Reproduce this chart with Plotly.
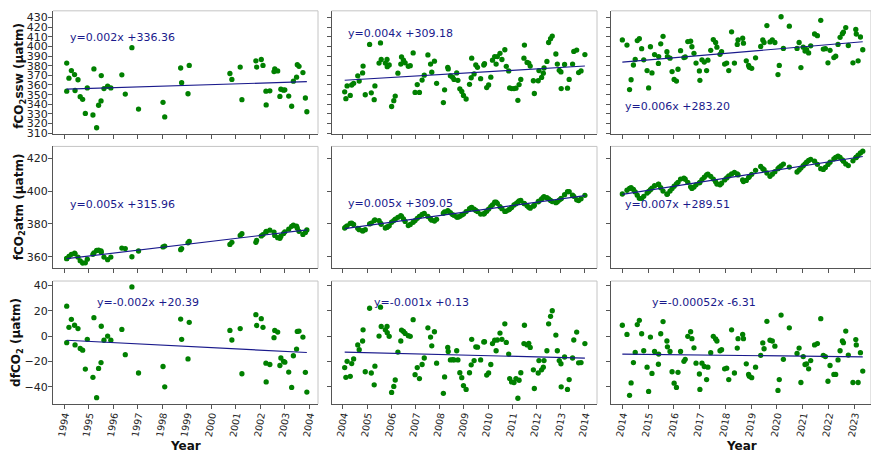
import numpy as np
import plotly.graph_objects as go

# ---------------- data ----------------
yr1 = [1994.10, 1994.10, 1994.19, 1994.29, 1994.42, 1994.44, 1994.56, 1994.65, 1994.75, 1994.86,
       1994.94, 1995.17, 1995.21, 1995.32, 1995.40, 1995.50, 1995.51, 1995.62, 1995.77, 1995.90,
       1996.35, 1996.49, 1996.76, 1997.03, 1998.03, 1998.10, 1998.75, 1998.79, 1999.05, 1999.10,
       2000.76, 2000.84, 2001.18, 2001.25, 2001.82, 2001.85, 2002.04, 2002.11, 2002.23, 2002.24,
       2002.39, 2002.56, 2002.59, 2002.71, 2002.80, 2002.84, 2002.95, 2003.00, 2003.16, 2003.28,
       2003.35, 2003.48, 2003.51, 2003.58, 2003.74, 2003.84, 2003.90]
sw1 = [382.7, 353.6, 367.1, 374.9, 370.8, 354.3, 365.4, 347.9, 345.2, 330.5,
       357.0, 328.9, 376.6, 315.7, 339.0, 343.5, 369.8, 356.3, 358.7, 357.0,
       370.5, 350.6, 398.6, 335.0, 342.0, 326.9, 377.6, 362.4, 350.9, 380.3,
       371.9, 365.8, 378.6, 344.8, 385.0, 378.6, 386.4, 380.3, 353.6, 339.4,
       354.0, 373.9, 376.6, 374.6, 348.2, 355.6, 354.6, 355.0, 348.5, 338.0,
       364.0, 368.1, 381.0, 379.3, 372.9, 346.5, 332.3]
atm1 = [359.0, 358.8, 360.2, 361.5, 362.2, 361.8, 359.8, 357.5, 356.2, 356.3,
        358.5, 361.5, 362.3, 363.8, 364.0, 363.5, 362.8, 359.8, 358.2, 359.8,
        365.3, 365.0, 360.0, 363.5, 366.0, 366.5, 364.3, 365.0, 368.5, 369.3,
        367.5, 368.8, 373.0, 374.0, 368.8, 370.0, 372.7, 373.5, 375.0, 375.4,
        376.2, 375.0, 373.0, 371.6, 371.2, 372.5, 374.2, 375.2, 376.8, 378.5,
        379.2, 378.6, 377.4, 375.5, 373.6, 374.8, 376.3]
df1 = [23.5, -5.2, 6.9, 13.2, 8.5, -7.0, 5.9, -9.8, -11.1, -26.0,
       -2.6, -32.5, 14.5, -48.5, -25.5, -20.9, 7.7, -3.3, 0.0, -3.3,
       5.2, -14.7, 38.7, -29.1, -24.0, -40.0, 13.4, -2.6, -18.0, 10.8,
       4.4, -3.1, 5.9, -29.7, 16.8, 8.3, 13.7, 6.9, -21.4, -36.1,
       -22.4, -1.3, 4.4, 3.1, -23.2, -17.3, -19.9, -20.6, -28.4, -40.5,
       -15.5, -10.3, 3.6, 3.9, -0.8, -28.6, -44.1]

yr2 = [2004.07, 2004.12, 2004.17, 2004.30, 2004.36, 2004.44, 2004.61, 2004.67, 2004.81, 2004.83,
       2004.92, 2005.10, 2005.17, 2005.29, 2005.32, 2005.49, 2005.55, 2005.58, 2005.75, 2005.82,
       2005.83, 2005.91, 2006.01, 2006.10, 2006.16, 2006.27, 2006.39, 2006.42, 2006.50, 2006.57,
       2006.70, 2006.78, 2006.90, 2006.98, 2007.07, 2007.16, 2007.27, 2007.36, 2007.51, 2007.62,
       2007.67, 2007.78, 2007.87, 2008.15, 2008.20, 2008.33, 2008.35, 2008.44, 2008.53, 2008.59,
       2008.70, 2008.75, 2008.83, 2008.91, 2008.98, 2009.09, 2009.23, 2009.30, 2009.32, 2009.42,
       2009.49, 2009.56, 2009.69, 2009.82, 2009.85, 2009.94, 2010.02, 2010.11, 2010.18, 2010.27,
       2010.33, 2010.38, 2010.49, 2010.57, 2010.69, 2010.75, 2010.85, 2010.89, 2010.97, 2011.07,
       2011.15, 2011.23, 2011.28, 2011.35, 2011.48, 2011.50, 2011.61, 2011.68, 2011.74, 2011.87,
       2011.91, 2012.07, 2012.10, 2012.21, 2012.28, 2012.31, 2012.43, 2012.50, 2012.58, 2012.65,
       2012.80, 2012.86, 2012.94, 2013.01, 2013.02, 2013.16, 2013.28, 2013.35, 2013.49, 2013.54,
       2013.66, 2013.74, 2013.84, 2014.00]
sw2 = [352.9, 345.8, 359.0, 349.2, 360.0, 361.7, 369.5, 364.1, 372.5, 379.6,
       349.9, 402.0, 351.9, 344.8, 359.0, 382.7, 403.6, 386.4, 382.7, 386.4,
       379.0, 380.7, 337.7, 343.8, 348.5, 372.2, 381.7, 389.1, 385.7, 383.0,
       379.3, 380.0, 393.2, 352.3, 360.4, 352.3, 365.1, 370.2, 391.1, 381.7,
       373.2, 384.7, 361.7, 341.8, 355.0, 378.3, 376.6, 369.5, 368.1, 365.8,
       372.5, 364.8, 356.0, 353.3, 349.2, 345.5, 360.7, 367.5, 387.8, 371.5,
       380.7, 378.3, 366.5, 380.7, 382.0, 357.3, 360.0, 368.1, 385.7, 389.4,
       381.7, 389.4, 392.8, 386.4, 396.5, 379.3, 374.6, 357.0, 356.3, 356.3,
       356.7, 344.1, 360.4, 365.8, 387.8, 401.3, 383.4, 382.7, 379.6, 364.4,
       351.2, 364.4, 374.9, 367.8, 372.2, 377.6, 384.4, 404.0, 408.0, 410.7,
       392.1, 381.7, 375.2, 373.5, 356.3, 381.3, 356.7, 365.8, 381.7, 394.8,
       396.2, 372.9, 374.6, 391.5]
atm2 = [377.5, 378.2, 378.8, 380.3, 380.5, 379.7, 377.3, 376.5, 375.7, 375.9,
        376.5, 380.0, 380.5, 382.0, 382.5, 382.0, 380.5, 379.8, 377.5, 378.0,
        378.1, 378.8, 381.0, 382.0, 382.9, 384.0, 385.0, 384.6, 383.0, 381.5,
        379.0, 379.7, 381.0, 382.0, 383.4, 384.5, 385.8, 386.4, 384.5, 383.0,
        382.3, 381.7, 382.8, 386.5, 387.3, 388.0, 387.8, 386.8, 385.7, 385.2,
        384.2, 384.1, 384.6, 385.4, 386.0, 387.5, 389.3, 389.9, 390.0, 389.0,
        388.2, 387.5, 386.0, 386.0, 386.5, 387.7, 389.0, 390.5, 391.6, 393.2,
        393.3, 392.5, 390.5, 389.3, 387.6, 387.8, 388.6, 389.0, 390.0, 391.5,
        392.3, 393.3, 394.0, 394.3, 392.5, 392.3, 391.0, 390.2, 389.6, 390.8,
        391.4, 393.5, 393.9, 395.2, 396.2, 396.6, 396.0, 395.3, 394.3, 393.6,
        392.9, 393.5, 394.5, 395.3, 395.5, 397.8, 399.6, 399.6, 397.5, 396.8,
        394.7, 394.2, 395.3, 397.4]
df2 = [-24.8, -32.5, -19.9, -31.7, -21.7, -18.0, -7.0, -10.8, -3.9, 4.9,
       -28.1, 21.9, -29.1, -38.4, -23.7, 0.0, 22.7, 7.5, 4.9, 7.5,
       2.6, -0.2, -44.4, -39.7, -34.6, -12.6, -3.9, 4.7, 3.6, 2.1,
       0.3, -0.2, 12.9, -30.4, -24.8, -33.5, -22.4, -17.3, 6.5, -0.8,
       -7.7, 3.4, -21.4, -45.1, -32.2, -9.0, -12.1, -18.8, -18.6, -18.8,
       -11.6, -18.8, -28.9, -32.8, -39.0, -42.0, -28.9, -22.7, -2.6, -19.3,
       -8.5, -8.8, -18.8, -4.6, -4.5, -30.7, -29.1, -22.4, -5.9, -3.3,
       -11.6, -3.1, 2.3, -2.6, 9.6, -5.0, -14.2, -33.5, -36.1, -36.6,
       -33.5, -49.0, -34.8, -28.9, -5.9, 8.5, -7.0, -5.7, -9.0, -26.6,
       -41.3, -29.1, -19.3, -26.6, -24.5, -19.3, -11.6, 9.6, 15.5, 19.9,
       0.8, -11.6, -19.3, -21.8, -40.0, -16.5, -42.0, -34.3, -17.3, -3.1,
       3.1, -21.1, -20.9, -5.9]

yr3 = [2014.00, 2014.18, 2014.28, 2014.34, 2014.43, 2014.50, 2014.58, 2014.66, 2014.75, 2014.83,
       2014.96, 2015.02, 2015.09, 2015.15, 2015.25, 2015.40, 2015.41, 2015.49, 2015.58, 2015.73,
       2015.75, 2015.85, 2015.93, 2016.01, 2016.10, 2016.16, 2016.26, 2016.39, 2016.44, 2016.54,
       2016.65, 2016.70, 2016.78, 2016.86, 2016.99, 2017.01, 2017.09, 2017.18, 2017.27, 2017.32,
       2017.43, 2017.53, 2017.62, 2017.67, 2017.79, 2017.85, 2017.97, 2018.05, 2018.13, 2018.24,
       2018.35, 2018.46, 2018.49, 2018.67, 2018.70, 2018.81, 2018.90, 2018.93, 2019.02, 2019.17,
       2019.37, 2019.45, 2019.50, 2019.61, 2019.73, 2019.82, 2019.92, 2020.04, 2020.09, 2020.16,
       2020.25, 2020.48, 2020.78, 2020.86, 2020.93, 2021.02, 2021.09, 2021.15, 2021.23, 2021.31,
       2021.46, 2021.57, 2021.70, 2021.80, 2021.88, 2021.98, 2022.06, 2022.21, 2022.28, 2022.37,
       2022.45, 2022.54, 2022.58, 2022.67, 2022.77, 2022.95, 2023.06, 2023.08, 2023.15, 2023.24,
       2023.33]
sw3 = [406.7, 401.3, 355.3, 365.4, 380.7, 386.4, 406.0, 408.0, 397.6, 386.1,
       374.9, 357.0, 399.6, 372.5, 391.5, 382.3, 389.4, 402.6, 410.4, 394.5,
       389.4, 387.8, 373.9, 365.8, 364.1, 376.3, 395.5, 388.4, 389.1, 405.0,
       405.3, 399.6, 392.8, 382.7, 374.6, 364.8, 386.1, 383.7, 374.9, 385.7,
       395.9, 407.0, 404.0, 399.2, 391.8, 394.5, 381.7, 382.7, 374.9, 415.1,
       382.7, 402.0, 406.7, 408.4, 403.3, 385.0, 380.3, 378.3, 377.3, 388.1,
       399.9, 406.7, 404.0, 421.5, 404.6, 406.7, 404.0, 370.8, 380.3, 430.7,
       397.9, 420.9, 397.9, 404.0, 378.0, 399.2, 395.2, 396.5, 393.2, 400.6,
       412.8, 411.1, 427.0, 397.2, 397.6, 383.0, 395.9, 388.4, 389.8, 402.0,
       409.4, 413.1, 414.8, 419.5, 400.9, 383.0, 417.5, 412.8, 385.0, 409.7,
       396.5]
atm3 = [398.2, 400.5, 401.6, 402.0, 401.0, 399.5, 397.5, 395.6, 395.5, 396.8,
        398.8, 399.8, 400.8, 401.8, 403.3, 404.2, 404.0, 402.0, 400.0, 398.0,
        398.2, 400.0, 401.5, 403.0, 404.4, 405.3, 407.3, 407.8, 407.2, 405.3,
        402.6, 401.6, 402.4, 403.8, 405.0, 405.3, 407.0, 408.4, 409.8, 410.3,
        409.0, 407.3, 405.6, 404.3, 403.8, 404.8, 406.8, 408.0, 409.2, 410.4,
        411.4, 410.5, 409.8, 406.8, 405.8, 406.5, 408.2, 408.8, 410.2, 412.6,
        415.0, 413.6, 413.0, 411.0, 409.0, 410.3, 411.8, 413.6, 414.4, 415.3,
        416.4, 414.6, 411.6, 412.8, 414.0, 415.4, 416.6, 417.6, 418.6, 419.3,
        418.2, 416.3, 413.6, 413.2, 414.4, 416.2, 417.6, 419.6, 420.5, 421.3,
        420.5, 419.0, 418.2, 416.5, 415.5, 418.4, 420.3, 420.6, 421.8, 423.2,
        424.3]
df3 = [8.5, 1.3, -46.7, -36.9, -20.9, -12.9, 9.0, 12.4, 1.8, -11.6,
       -24.5, -43.6, -0.8, -29.4, -12.1, -22.2, -14.2, 1.8, 11.4, -3.9,
       -8.5, -12.1, -28.1, -37.1, -40.5, -28.6, -12.1, -19.9, -18.3, -0.2,
       3.4, -2.1, -9.3, -21.4, -29.9, -42.0, -21.4, -24.0, -34.3, -24.5,
       -13.1, -0.2, -2.3, -3.9, -11.6, -10.8, -25.8, -25.3, -34.3, 4.9,
       -29.1, -9.5, -2.1, 1.3, -2.1, -21.9, -30.2, -31.7, -32.8, -24.5,
       -15.2, -5.4, -10.0, 11.6, -3.3, -3.9, -8.0, -42.8, -34.3, 16.5,
       -18.3, 6.5, -13.7, -9.5, -36.6, -16.2, -22.4, -21.9, -25.8, -19.3,
       -7.0, -5.9, 13.7, -15.2, -16.2, -35.6, -23.2, -30.2, -30.2, -18.8,
       -11.6, -3.9, -5.2, 3.9, -15.0, -36.6, -2.8, -7.0, -36.6, -13.1,
       -27.6]

eq_labels = ["y=0.002x +336.36", "y=0.004x +309.18", "y=0.006x +283.20",
             "y=0.005x +315.96", "y=0.005x +309.05", "y=0.007x +289.51",
             "y=-0.002x +20.39", "y=-0.001x +0.13", "y=-0.00052x -6.31"]
row_titles = ["<b>fCO<sub>2</sub>ssw (µatm)</b>", "<b>fCO<sub>2</sub>atm (µatm)</b>",
              "<b>dfCO<sub>2</sub> (µatm)</b>"]
col_years = [list(range(1994, 2005)), list(range(2004, 2015)), list(range(2014, 2024))]
row_ticks = [list(range(310, 431, 10)), [360, 380, 400, 420], [-40, -20, 0, 20, 40]]

# ---------------- layout geometry ----------------
W, H = 871, 456
col_px = [(53, 318), (331.5, 597), (611, 871)]
row_px = [(9, 134), (147, 271), (284, 409)]
col_range = [[1993.54, 2004.355], [2003.525, 2014.50], [2013.56, 2023.65]]
row_range = [[309.6, 436.8], [353.0, 427.18], [-53.38, 43.33]]
eq_pos = [(68, 36), (346, 32), (623, 106),
          (68, 206), (346, 205), (623, 206),
          (95, 306), (372, 306), (650, 306)]

FONT = "DejaVu Sans"
DARK = "#555555"
LIGHT = "#c4c4c4"
GREEN = "#008000"
NAVY = "#1a1a8c"

panels = [[(yr1, sw1), (yr2, sw2), (yr3, sw3)],
          [(yr1, atm1), (yr2, atm2), (yr3, atm3)],
          [(yr1, df1), (yr2, df2), (yr3, df3)]]

fig = go.Figure()
layout = dict(width=W, height=H, margin=dict(l=0, r=0, t=0, b=0),
              paper_bgcolor="white", plot_bgcolor="white", showlegend=False,
              font=dict(family=FONT, size=11, color="#222222"))
shapes = []
annotations = []

for r in range(3):
    for c in range(3):
        idx = r * 3 + c + 1
        sfx = "" if idx == 1 else str(idx)
        xs, ys = panels[r][c]
        xa, ya = "x" + sfx, "y" + sfx
        fig.add_trace(go.Scatter(x=xs, y=ys, mode="markers", xaxis=xa, yaxis=ya,
                                 marker=dict(color=GREEN, size=5.3, line=dict(width=0)),
                                 hoverinfo="skip"))
        slope, icpt = np.polyfit(np.array(xs), np.array(ys), 1)
        lx = np.array([min(xs), max(xs)])
        fig.add_trace(go.Scatter(x=lx, y=slope * lx + icpt, mode="lines", xaxis=xa, yaxis=ya,
                                 line=dict(color=NAVY, width=1.2), hoverinfo="skip"))
        x0, x1 = col_px[c]
        y0, y1 = row_px[r]
        layout["xaxis" + sfx] = dict(
            domain=[x0 / W, x1 / W], range=col_range[c], anchor=ya,
            tickmode="array", tickvals=col_years[c], ticktext=[str(v) for v in col_years[c]],
            showticklabels=(r == 2), tickangle=-80, ticks="outside", ticklen=4,
            ticklabelstandoff=-3,
            tickcolor=DARK, showline=True, linecolor=DARK, linewidth=1, mirror=False,
            showgrid=False, zeroline=False, tickfont=dict(family=FONT, size=9.6, color="#222"))
        layout["yaxis" + sfx] = dict(
            domain=[1 - y1 / H, 1 - y0 / H], range=row_range[r], anchor=xa,
            tickmode="array", tickvals=row_ticks[r],
            showticklabels=(c == 0), ticks="outside", ticklen=4,
            ticklabelstandoff=-2,
            tickcolor=DARK, showline=True, linecolor=DARK, linewidth=1, mirror=False,
            showgrid=False, zeroline=False, tickfont=dict(family=FONT, size=11, color="#222"))
        # light top / right frame edges
        shapes.append(dict(type="line", xref=xa + " domain", yref=ya + " domain",
                           x0=0, x1=1, y0=1, y1=1, line=dict(color=LIGHT, width=1)))
        shapes.append(dict(type="line", xref=xa + " domain", yref=ya + " domain",
                           x0=1, x1=1, y0=0, y1=1, line=dict(color=LIGHT, width=1)))
        ex, ey = eq_pos[idx - 1]
        annotations.append(dict(text=eq_labels[idx - 1], xref="paper", yref="paper",
                                x=ex / W, y=1 - ey / H, xanchor="left", yanchor="middle",
                                showarrow=False, font=dict(family=FONT, size=11, color=NAVY)))

# y-axis titles
for r, (tx, ty) in enumerate([(20, 75), (20, 209), (17, 347)]):
    annotations.append(dict(text=row_titles[r], xref="paper", yref="paper",
                            x=tx / W, y=1 - ty / H, xanchor="center", yanchor="middle",
                            textangle=-90, showarrow=False,
                            font=dict(family=FONT, size=12, color="#111")))
# x-axis titles (first and last column)
for tx in [185.5, 741]:
    annotations.append(dict(text="<b>Year</b>", xref="paper", yref="paper",
                            x=tx / W, y=0, xanchor="center", yanchor="bottom",
                            yshift=-4, borderpad=0,
                            showarrow=False, font=dict(family=FONT, size=12, color="#111")))

layout["shapes"] = shapes
layout["annotations"] = annotations
fig.update_layout(**layout)
fig.write_html("out.html")
